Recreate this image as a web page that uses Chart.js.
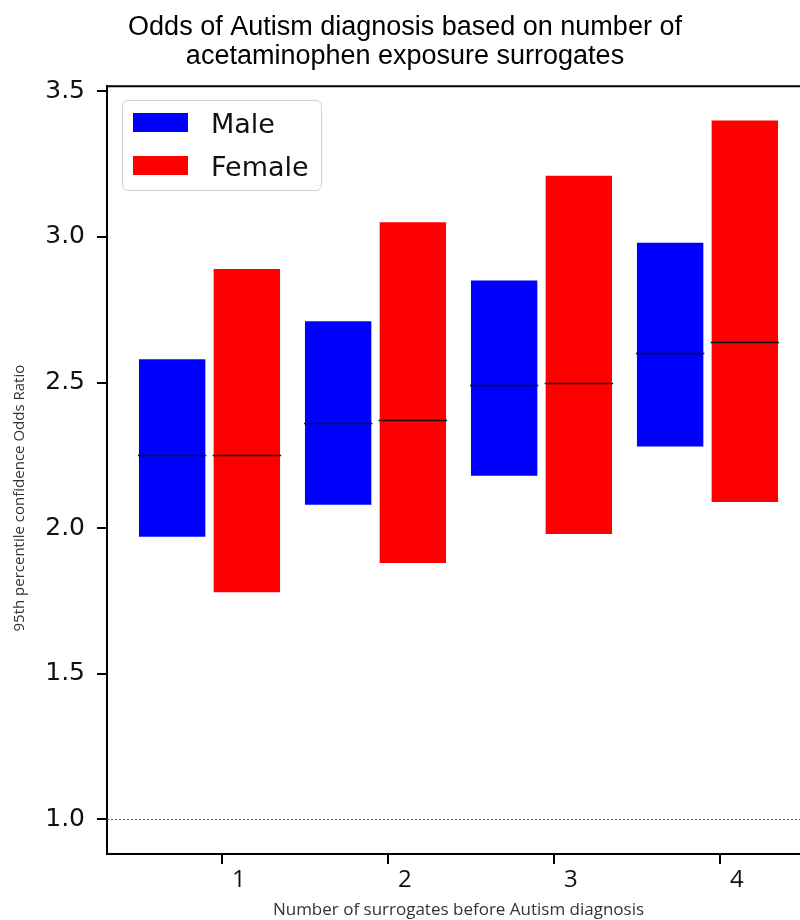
<!DOCTYPE html>
<html>
<head>
<meta charset="utf-8">
<title>Odds of Autism diagnosis</title>
<script src="https://cdn.jsdelivr.net/npm/chart.js@4.4.1/dist/chart.umd.min.js"></script>
<style>
    html, body { margin: 0; padding: 0; overflow: hidden; background: #fff; }
    #wrap { position: relative; width: 830px; height: 920px; }
    #legend {
        position: absolute; left: 122px; top: 100px; width: 198px; height: 89px;
        border: 1.5px solid #d0d0d0; border-radius: 6px; background: rgba(255,255,255,0.85);
        font-family: "DejaVu Sans", sans-serif; font-size: 27px; color: #111;
    }
    .row { position: absolute; left: 10px; height: 20px; }
    .row span.box { position: absolute; left: 0; top: 0; width: 55px; height: 19px; }
    .row span.txt { position: absolute; left: 78px; top: -5px; white-space: nowrap; }
</style>
</head>
<body>
<div id="wrap">
    <canvas id="chart" width="830" height="920"></canvas>
    <div id="legend"></div>
</div>
<script>
// data
const categories = [1, 2, 3, 4];
const maleLow = [1.97, 2.08, 2.18, 2.28];
const maleHigh = [2.58, 2.71, 2.85, 2.98];
const maleMid = [2.25, 2.36, 2.49, 2.60];
const femaleLow = [1.78, 1.88, 1.98, 2.09];
const femaleHigh = [2.89, 3.05, 3.21, 3.40];
const femaleMid = [2.25, 2.37, 2.50, 2.64];
const yTicks = [1.0, 1.5, 2.0, 2.5, 3.0, 3.5];
const refLine = 1.0;

// bars sit left / right of the tick
const maleShift = -0.3;
const femaleShift = 0.15;

let makeBars = (low, high, shift) => categories.map((c, i) => ({ x: c + shift, y: [low[i], high[i]] }));

// median line inside every bar
const medianPlugin = {
    id: 'medians',
    afterDatasetsDraw(chart) {
        var ctx = chart.ctx;
        var yScale = chart.scales.y;
        chart.data.datasets.forEach((ds, d) => {
            var meta = chart.getDatasetMeta(d);
            meta.data.forEach((bar, i) => {
                var y = Math.round(yScale.getPixelForValue(ds.medians[i])) + 0.5;
                ctx.save();
                ctx.strokeStyle = '#111';
                ctx.lineWidth = 1.5;
                ctx.beginPath();
                ctx.moveTo(bar.x - bar.width / 2 - 1, y);
                ctx.lineTo(bar.x + bar.width / 2 + 1, y);
                ctx.stroke();
                ctx.restore();
            });
        });
    }
};

// dotted line at 1.0, top spine, y title
const framePlugin = {
    id: 'frame',
    beforeDatasetsDraw(chart) {
        var ctx = chart.ctx;
        var a = chart.chartArea;
        var y = Math.round(chart.scales.y.getPixelForValue(refLine)) + 0.5;
        ctx.save();
        ctx.strokeStyle = '#555';
        ctx.lineWidth = 1;
        ctx.setLineDash([2, 2]);
        ctx.beginPath();
        ctx.moveTo(a.left, y);
        ctx.lineTo(a.right, y);
        ctx.stroke();
        ctx.restore();
    },
    afterDraw(chart) {
        var ctx = chart.ctx;
        var a = chart.chartArea;
        ctx.save();
        ctx.strokeStyle = '#000';
        ctx.lineWidth = 2;
        ctx.beginPath();
        ctx.moveTo(a.left - 1, a.top);
        ctx.lineTo(a.right, a.top);
        ctx.lineTo(a.right, a.bottom);
        ctx.stroke();
        // y axis title
        ctx.translate(20, (a.top + a.bottom) / 2 + 28);
        ctx.rotate(-Math.PI / 2);
        ctx.fillStyle = '#333';
        ctx.font = '15px "Open Sans"';
        ctx.textAlign = 'center';
        ctx.textBaseline = 'middle';
        ctx.fillText('95th percentile confidence Odds Ratio', 0, 0);
        ctx.restore();
    }
};

var ctx = document.getElementById('chart').getContext('2d');
var myChart = new Chart(ctx, {
    type: 'bar',
    data: {
        datasets: [{
            label: 'Male',
            data: makeBars(maleLow, maleHigh, maleShift),
            medians: maleMid,
            backgroundColor: '#0000ff'
        }, {
            label: 'Female',
            data: makeBars(femaleLow, femaleHigh, femaleShift),
            medians: femaleMid,
            backgroundColor: '#ff0000'
        }]
    },
    options: {
        responsive: false,
        animation: false,
        grouped: false,
        categoryPercentage: 1,
        barPercentage: 0.4 / 0.45,
        layout: { padding: { left: 0, right: 20, top: 0, bottom: 0 } },
        plugins: {
            legend: { display: false },
            tooltip: { enabled: false },
            title: {
                display: true,
                text: ['Odds of Autism diagnosis based on number of', 'acetaminophen exposure surrogates'],
                color: '#000',
                font: { family: '"Liberation Sans", Arial, sans-serif', size: 27, weight: 'normal', lineHeight: 1.08 },
                padding: { top: 13, bottom: 15 }
            }
        },
        scales: {
            x: {
                type: 'linear',
                offset: false,
                min: 0.3075,
                max: 4.5425,
                afterBuildTicks: (scale) => { scale.ticks = categories.map(v => ({ value: v })); },
                afterFit: (scale) => { scale.height = 66; },
                grid: { offset: false, drawOnChartArea: false, drawTicks: true, tickLength: 10, color: '#000', lineWidth: 2 },
                border: { display: true, color: '#000', width: 2 },
                ticks: {
                    color: '#111',
                    padding: 2,
                    labelOffset: 17,
                    font: { family: '"Open Sans"', size: 24 },
                    callback: (v) => String(v)
                },
                title: {
                    display: true,
                    text: 'Number of surrogates before Autism diagnosis',
                    color: '#333',
                    font: { family: '"Open Sans"', size: 17 },
                    padding: { top: 0, bottom: 0 }
                }
            },
            y: {
                min: 0.881,
                max: 3.517,
                afterBuildTicks: (scale) => { scale.ticks = yTicks.map(v => ({ value: v })); },
                afterFit: (scale) => { scale.width = 107; },
                grid: { drawOnChartArea: false, drawTicks: true, tickLength: 10, color: '#000', lineWidth: 2 },
                border: { display: true, color: '#000', width: 2 },
                ticks: {
                    color: '#111',
                    padding: 12,
                    font: { family: '"DejaVu Sans"', size: 25 },
                    callback: (v) => v.toFixed(1)
                }
            }
        }
    },
    plugins: [framePlugin, medianPlugin]
});

// legend box drawn over the plot, built from the datasets
var legend = document.getElementById('legend');
myChart.data.datasets.forEach((ds, i) => {
    var row = document.createElement('div');
    row.className = 'row';
    row.style.top = (12 + i * 43) + 'px';
    row.innerHTML = '<span class="box" style="background:' + ds.backgroundColor + '"></span><span class="txt">' + ds.label + '</span>';
    legend.appendChild(row);
});
</script>
</body>
</html>
